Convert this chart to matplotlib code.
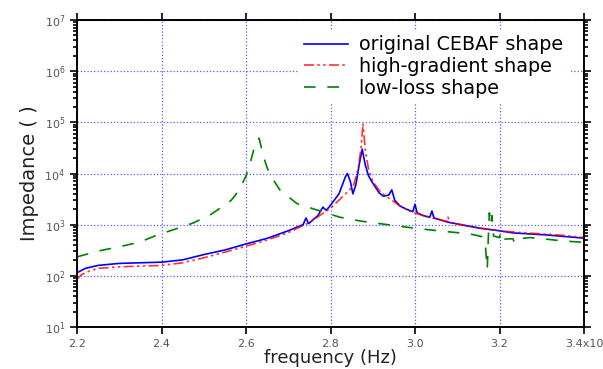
import numpy as np
import matplotlib.pyplot as plt
from matplotlib.ticker import FixedLocator, FixedFormatter, LogLocator, NullFormatter

# frequency in units of 1e9 Hz, impedance
f_orig = [2.200, 2.220, 2.250, 2.300, 2.350, 2.400, 2.450, 2.500, 2.550, 2.600,
          2.650, 2.700, 2.735, 2.742, 2.748, 2.770, 2.782, 2.790, 2.800, 2.820,
          2.835, 2.840, 2.847, 2.853, 2.860, 2.868, 2.875, 2.882, 2.890, 2.900,
          2.915, 2.925, 2.938, 2.945, 2.952, 2.965, 2.980, 2.995, 3.000, 3.005,
          3.020, 3.035, 3.040, 3.045, 3.076, 3.114, 3.154, 3.200, 3.232, 3.270,
          3.312, 3.350, 3.395, 3.400]
z_orig = [115, 140, 160, 175, 180, 185, 205, 260, 320, 420,
          540, 760, 1000, 1350, 1050, 1500, 2200, 1900, 2400, 4000,
          8500, 10000, 7000, 4000, 6000, 15000, 30000, 15000, 9000, 6500,
          4200, 3600, 3800, 4800, 3000, 2300, 2000, 1800, 2500, 1700,
          1500, 1400, 1850, 1350, 1130, 980, 850, 760, 690, 660,
          630, 590, 550, 540]

f_high = [2.200, 2.210, 2.230, 2.250, 2.300, 2.350, 2.400, 2.450, 2.500, 2.550,
          2.600, 2.650, 2.700, 2.750, 2.800, 2.830, 2.845, 2.855, 2.865, 2.872,
          2.877, 2.882, 2.890, 2.900, 2.920, 2.945, 2.965, 2.990, 3.020, 3.040,
          3.060, 3.075, 3.078, 3.082, 3.110, 3.150, 3.200, 3.250, 3.300, 3.350,
          3.400]
z_high = [85, 105, 125, 140, 150, 155, 160, 180, 225, 290,
          380, 500, 700, 1100, 2100, 3600, 4800, 6000, 12000, 30000,
          95000, 30000, 12000, 7000, 4200, 3000, 2300, 1800, 1500, 1350,
          1250, 1150, 1400, 1100, 1000, 870, 760, 700, 660, 620,
          560]

f_low = [2.200, 2.254, 2.300, 2.350, 2.390, 2.427, 2.475, 2.515, 2.546, 2.565,
         2.575, 2.586, 2.600, 2.610, 2.620, 2.626, 2.631, 2.636, 2.640, 2.650,
         2.657, 2.680, 2.720, 2.775, 2.822, 2.870, 2.964, 3.000, 3.076, 3.130,
         3.160, 3.166, 3.171, 3.174, 3.176, 3.179, 3.182, 3.186, 3.200, 3.202,
         3.205, 3.232, 3.235, 3.238, 3.272, 3.312, 3.350, 3.395, 3.400]
z_low = [235, 310, 370, 460, 630, 790, 1080, 1550, 2300, 3000,
         3800, 5100, 9000, 16000, 33000, 38000, 49000, 33000, 23000, 13000,
         9400, 4800, 2600, 1850, 1400, 1180, 930, 850, 730, 660,
         580, 450, 135, 700, 1700, 1000, 1500, 600, 560, 700,
         520, 530, 450, 520, 560, 520, 480, 455, 440]

xticks = [2.2, 2.4, 2.6, 2.8, 3.0, 3.2, 3.4]
xtick_labels = ["2.2", "2.4", "2.6", "2.8", "3.0", "3.2", "3.4x10"]

fig = plt.figure(figsize=(6.03, 3.69), dpi=100)
ax = fig.add_axes([0.1277, 0.1138, 0.8408, 0.8320])

ax.plot(f_orig, z_orig, color="blue", lw=1.2, label="original CEBAF shape")
ax.plot(f_high, z_high, color="red", lw=1.2, dashes=(6, 2, 1.5, 2, 1.5, 2), alpha=0.8,
        label="high-gradient shape")
ax.plot(f_low, z_low, color="green", lw=1.2, dashes=(7, 7), label="low-loss shape")

ax.set_yscale("log")
ax.set_xlim(2.2, 3.4)
ax.set_ylim(10, 1e7)

ax.xaxis.set_major_locator(FixedLocator(xticks))
ax.xaxis.set_major_formatter(FixedFormatter(xtick_labels))
ax.yaxis.set_major_locator(LogLocator(base=10, numticks=10))
ax.yaxis.set_minor_locator(LogLocator(base=10, subs=np.arange(2, 10), numticks=20))
ax.yaxis.set_minor_formatter(NullFormatter())

ax.tick_params(which="both", direction="out", top=True, right=True, labelcolor="#555555",
               labelsize=8, width=1.2)
ax.tick_params(which="major", length=5)
ax.tick_params(which="minor", length=3)
for s in ax.spines.values():
    s.set_linewidth(1.4)

ax.grid(True, which="major", color=(0.35, 0.35, 1.0), ls=":", lw=0.9)

ax.set_xlabel("frequency (Hz)", fontsize=13, color="#222222", labelpad=0)
ax.set_ylabel("Impedance ( )", fontsize=14, color="#222222", labelpad=4)

leg = ax.legend(loc="upper right", bbox_to_anchor=(0.99, 1.0), fontsize=13.8, frameon=True,
                handlelength=2.3, handletextpad=0.6, labelspacing=0.15, borderpad=0.3)
leg.get_frame().set_edgecolor("none")
leg.get_frame().set_facecolor("white")
leg.get_frame().set_alpha(1.0)

fig.savefig("out.png", dpi=100)
